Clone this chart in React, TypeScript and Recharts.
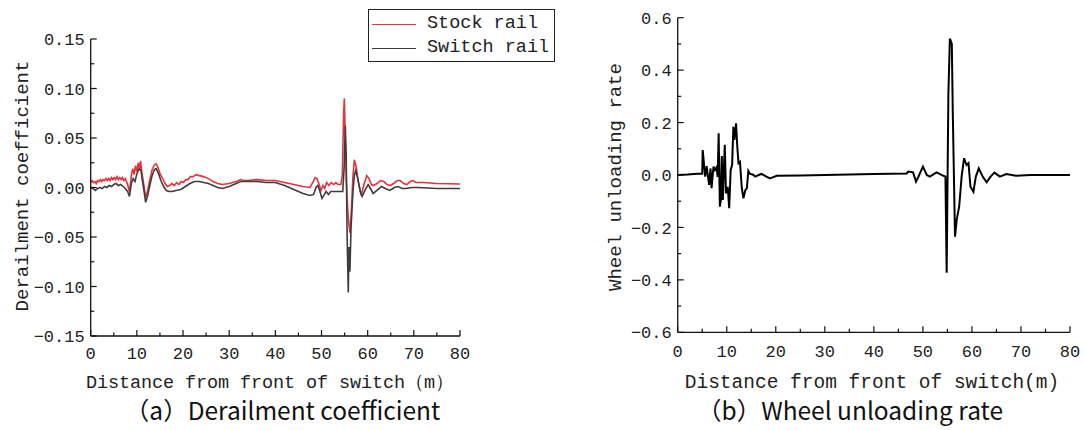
import React from 'react';
import { LineChart, Line, XAxis, YAxis, Legend } from 'recharts';

// ---------- tick labels ----------
const distanceTicks = [0, 5, 10, 15, 20, 25, 30, 35, 40, 45, 50, 55, 60, 65, 70, 75, 80];
const derailTicks = [-0.15, -0.125, -0.1, -0.075, -0.05, -0.025, 0, 0.025, 0.05, 0.075, 0.1, 0.125, 0.15];
const unloadTicks = [-0.6, -0.5, -0.4, -0.3, -0.2, -0.1, 0, 0.1, 0.2, 0.3, 0.4, 0.5, 0.6];

// ---------- series names ----------
const seriesNames = ['Stock rail', 'Switch rail'];

// ---------- stock rail derailment coefficient ----------
const stockDist = [
  0, 0.3, 0.6, 0.9, 1.2, 1.5, 1.8, 2.1, 2.4, 2.7, 3, 3.3, 3.6, 3.9, 4.2, 4.5, 4.8, 5.1, 5.4, 5.7,
  6, 6.3, 6.6, 6.9, 7.2, 7.5, 8, 8.4, 8.8, 9.1,
  9.4, 9.7, 10, 10.3, 10.6, 10.8, 11.1, 11.5, 11.9, 12.3, 12.8, 13.3, 13.8, 14.2, 14.6, 15.1,
  15.6, 16.1, 16.6, 17.1, 17.6, 18.1, 18.6, 19.1, 19.6, 20.1, 20.6, 21.1, 21.6, 22.2, 22.8, 23.5,
  24.5, 25.5, 26.5, 27.5, 28.5, 30, 31.5, 32.5, 33, 34, 36, 38, 40, 42, 44, 46,
  47.5, 48.2, 48.6, 49.0, 49.4, 49.9, 50.3, 50.7, 51.1, 51.6, 52.1, 52.6, 53.1, 53.6, 54.2, 54.5,
  54.8, 54.95, 55.15, 55.4, 55.7, 56.0, 56.2, 56.5, 56.8, 57.1, 57.5, 58.0, 58.6, 59.2, 59.8, 60.3,
  60.8, 61.3, 62, 62.8, 63.5, 64.2, 64.9, 65.6, 66.4, 67, 67.8, 68.5, 69.2, 69.8, 70.5, 72, 75, 80,
];
const stockCoef = [
  0.005, 0.007, 0.005, 0.006, 0.004, 0.007, 0.006, 0.008, 0.006, 0.008, 0.007, 0.009, 0.007, 0.009, 0.007, 0.010, 0.008, 0.010, 0.008, 0.011,
  0.008, 0.010, 0.008, 0.010, 0.007, 0.009, 0.003, -0.004, 0.012, 0.019,
  0.013, 0.022, 0.016, 0.025, 0.019, 0.027, 0.015, 0.003, -0.010, -0.004, 0.008, 0.018, 0.023, 0.024, 0.020, 0.013,
  0.009, 0.004, 0.001, 0.002, 0.004, 0.002, 0.005, 0.003, 0.006, 0.005, 0.008, 0.008, 0.011, 0.011, 0.013, 0.012,
  0.011, 0.009, 0.006, 0.004, 0.003, 0.004, 0.006, 0.008, 0.007, 0.007, 0.008, 0.007, 0.007, 0.005, 0.003, 0.001,
  0.000, 0.006, 0.010, 0.009, 0.004, -0.003, 0.002, -0.001, 0.005, 0.002, 0.005, 0.003, 0.005, 0.003, 0.003, 0.012,
  0.075, 0.090, 0.050, 0.005, -0.025, -0.040, -0.046, -0.020, 0.010, 0.028, 0.021, 0.005, -0.008, 0.003, 0.012, 0.009,
  0.003, 0.002, 0.004, 0.007, 0.006, 0.003, 0.002, 0.004, 0.007, 0.007, 0.004, 0.003, 0.006, 0.007, 0.005, 0.005, 0.004, 0.0035,
];

// ---------- switch rail derailment coefficient ----------
const switchDist = [
  0, 0.5, 1, 1.5, 2, 2.5, 3, 3.5, 4, 4.5, 5, 5.5, 6, 6.5, 7, 7.5, 8, 8.4, 8.8, 9.2,
  9.6, 10, 10.5, 10.9, 11.2, 11.6, 11.9, 12.3, 12.8, 13.3, 13.8, 14.2, 14.7, 15.2, 15.8, 16.4,
  17, 17.6, 18.5, 19.5, 20.5, 21.5, 22.5, 23.5, 24.5, 25.5, 26.5, 27.5, 28.5, 30, 31.5, 32.5,
  34, 36, 38, 40, 42, 44, 46, 47.5, 48.3, 48.8, 49.2, 49.6, 50.1, 50.5, 51.0, 51.5,
  52, 53, 54, 54.6, 54.9, 55.15, 55.35, 55.55, 55.8, 55.95, 56.15, 56.4, 56.8, 57.1, 57.4, 57.9,
  58.4, 58.8, 59.4, 60.1, 60.6, 61.2, 62, 63, 63.8, 64.8, 65.8, 66.6, 67.5, 68.3, 69.5, 71, 75, 80,
];
const switchCoef = [
  0.000, -0.001, -0.003, -0.001, 0.000, -0.001, 0.001, 0.000, 0.002, 0.001, 0.003, 0.004, 0.002, 0.003, 0.001, -0.001, -0.004, -0.009, 0.004, 0.009,
  0.006, 0.014, 0.019, 0.017, 0.007, -0.005, -0.015, -0.009, 0.002, 0.012, 0.018, 0.019, 0.014, 0.007, 0.001, -0.003,
  -0.004, -0.004, -0.003, -0.002, 0.001, 0.004, 0.006, 0.006, 0.005, 0.004, 0.002, 0.000, -0.001, 0.001, 0.004, 0.006,
  0.006, 0.006, 0.005, 0.005, 0.002, -0.002, -0.006, -0.008, -0.007, 0.000, 0.002, -0.003, -0.011, -0.008, -0.004, -0.007,
  -0.004, -0.004, -0.004, -0.004, 0.020, 0.062, 0.030, -0.050, -0.106, -0.060, -0.085, -0.040, -0.005, 0.012, 0.017, 0.008,
  -0.004, -0.009, -0.003, 0.003, -0.001, -0.006, -0.003, 0.001, -0.001, -0.003, 0.000, 0.001, -0.001, -0.001, 0.000, 0.000, -0.001, -0.001,
];

// ---------- wheel unloading rate ----------
const unloadDist = [
  0, 2, 4, 5.0, 5.1, 5.6, 5.9, 6.4, 6.7, 6.9, 7.3, 7.6, 7.95, 8.15, 8.35, 8.6, 8.8, 9.0, 9.2, 9.6,
  9.85, 10.2, 10.5, 10.8, 11.1, 11.35, 11.55, 11.9, 12.15, 12.4, 12.7, 13.05, 13.4, 13.8, 14.1, 14.4, 14.75, 15.3,
  15.8, 16.5, 17.1, 18, 18.8, 19.5, 20.2, 25, 30, 35, 40, 46.7, 47, 48, 48.6, 49.1,
  50, 50.8, 51.4, 52.8, 54.2, 54.6, 54.85, 55.2, 55.5, 55.9, 56.1, 56.55, 56.9, 57.4, 57.9, 58.4,
  58.9, 59.3, 59.7, 60.3, 60.8, 61.4, 62.2, 63, 63.8, 64.6, 65.7, 67, 69, 72, 80,
];
const unloadRate = [
  0.0, 0.002, 0.005, 0.005, 0.095, -0.006, 0.034, -0.038, 0.025, -0.05, 0.032, 0.019, 0.03, -0.007, 0.159, -0.121, -0.095, 0.072, -0.095, 0.115,
  -0.07, -0.045, -0.127, 0.019, 0.038, 0.184, 0.134, 0.197, 0.108, 0.045, 0.05, -0.045, -0.089, -0.057, -0.051, 0.016, 0.004, 0.002,
  -0.006, 0.0, 0.004, -0.005, -0.013, -0.008, -0.003, -0.002, 0.0, 0.002, 0.004, 0.006, 0.013, 0.01, -0.025, -0.006,
  0.032, 0.0, -0.006, 0.01, -0.003, -0.006, -0.373, 0.312, 0.52, 0.5, 0.235, -0.235, -0.17, -0.121, -0.006, 0.064,
  0.038, 0.045, -0.045, -0.064, -0.006, 0.025, -0.006, -0.028, -0.006, 0.009, -0.006, 0.004, -0.003, 0.0, 0.0,
];

const zip = (xs: number[], ys: number[]) => xs.map((x, i) => ({ x, y: ys[i] }));
const stockData = zip(stockDist, stockCoef);
const switchData = zip(switchDist, switchCoef);
const unloadData = zip(unloadDist, unloadRate);

const MONO = '"Liberation Mono", "DejaVu Sans Mono", monospace';
const CAPTION = '"Noto Sans CJK SC", "Noto Sans", sans-serif';
const TEXT_COLOR = '#222';
const AXIS_COLOR = '#111';

const fmt = (v: number, d: number) => {
  if (Math.abs(v) < 1e-9) return (0).toFixed(d);
  return (v < 0 ? '\u2212' : '') + Math.abs(v).toFixed(d);
};

const isMajorTick = (v: number, step: number) => Math.abs(v / step - Math.round(v / step)) < 1e-6;

const makeYTick = (step: number, decimals: number) => (props: any) => {
  const { x, y, payload } = props;
  const v = payload.value as number;
  const major = isMajorTick(v, step);
  const len = major ? 6 : 3.5;
  return (
    <g>
      <line x1={x} x2={x + len} y1={y} y2={y} stroke={AXIS_COLOR} strokeWidth={1.2} />
      {major && (
        <text x={x - 6} y={y} dy="0.36em" textAnchor="end" fontFamily={MONO} fontSize={17} fill={TEXT_COLOR}>
          {fmt(v, decimals)}
        </text>
      )}
    </g>
  );
};

const makeXTick = (step: number, labelGap: number) => (props: any) => {
  const { x, y, payload } = props;
  const v = payload.value as number;
  const major = isMajorTick(v, step);
  const len = major ? 6 : 3.5;
  return (
    <g>
      <line x1={x} x2={x} y1={y} y2={y - len} stroke={AXIS_COLOR} strokeWidth={1.2} />
      {major && (
        <text x={x} y={y + labelGap} dy="0.36em" textAnchor="middle" fontFamily={MONO} fontSize={17} fill={TEXT_COLOR}>
          {String(v)}
        </text>
      )}
    </g>
  );
};

const LegendBox = (props: any) => {
  const payload = (props.payload || []) as any[];
  return (
    <div
      style={{
        width: 187,
        height: 53,
        border: '1px solid #222',
        boxSizing: 'border-box',
        background: '#fff',
        paddingTop: 2,
      }}
    >
      {payload.map((p: any, i: number) => (
        <div key={i} style={{ display: 'flex', alignItems: 'center', height: 24 }}>
          <div style={{ marginLeft: 3, width: 44, height: 0, borderTop: `1.6px solid ${p.color}` }} />
          <span
            style={{
              marginLeft: 11,
              fontFamily: MONO,
              fontSize: 18.5,
              color: TEXT_COLOR,
              lineHeight: '24px',
              whiteSpace: 'nowrap',
            }}
          >
            {p.value}
          </span>
        </div>
      ))}
    </div>
  );
};

const LeftChart = () => (
  <LineChart width={560} height={430} margin={{ top: 39, right: 100, bottom: 54, left: 10.7 }}>
    <XAxis
      type="number"
      dataKey="x"
      domain={[0, 80]}
      ticks={distanceTicks}
      interval={0}
      height={40}
      tickSize={0}
      tickMargin={0}
      tickLine={false}
      axisLine={{ stroke: AXIS_COLOR, strokeWidth: 1.3 }}
      tick={makeXTick(10, 17)}
      allowDataOverflow
      label={() => (
        <g>
          <text
            x={270}
            y={381}
            dy="0.36em"
            textAnchor="middle"
            fontFamily={MONO}
            fontSize={18.5}
            fill={TEXT_COLOR}
            textLength={368}
            lengthAdjust="spacing"
          >
            Distance from front of switch（m）
          </text>
          <text x={282.5} y={411} dy="0.36em" textAnchor="middle" fontFamily={CAPTION} fontSize={24.5} fill="#111">
            （a）Derailment coefficient
          </text>
        </g>
      )}
    />
    <YAxis
      type="number"
      domain={[-0.15, 0.15]}
      ticks={derailTicks}
      interval={0}
      width={80}
      tickSize={0}
      tickMargin={0}
      tickLine={false}
      axisLine={{ stroke: AXIS_COLOR, strokeWidth: 1.3 }}
      tick={makeYTick(0.05, 2)}
      allowDataOverflow
      label={() => (
        <text
          x={21}
          y={186}
          dy="0.36em"
          textAnchor="middle"
          fontFamily={MONO}
          fontSize={19}
          fill={TEXT_COLOR}
          transform="rotate(-90 21 186)"
        >
          Derailment coefficient
        </text>
      )}
    />
    <Legend
      verticalAlign="middle"
      align="center"
      layout="horizontal"
      content={(p: any) => <LegendBox {...p} />}
      wrapperStyle={{ left: 368, top: 9, width: 187, height: 53 }}
    />
    <Line
      data={stockData}
      dataKey="y"
      name={seriesNames[0]}
      type="linear"
      stroke="#e8313a"
      strokeWidth={1.6}
      dot={false}
      activeDot={false}
      isAnimationActive={false}
    />
    <Line
      data={switchData}
      dataKey="y"
      name={seriesNames[1]}
      type="linear"
      stroke="#3d3d3d"
      strokeWidth={1.6}
      dot={false}
      activeDot={false}
      isAnimationActive={false}
    />
  </LineChart>
);

const RightChart = () => (
  <LineChart width={524} height={430} margin={{ top: 17.7, right: 14, bottom: 57.7, left: 37.7 }}>
    <XAxis
      type="number"
      dataKey="x"
      domain={[0, 80]}
      ticks={distanceTicks}
      interval={0}
      height={40}
      tickSize={0}
      tickMargin={0}
      tickLine={false}
      axisLine={{ stroke: AXIS_COLOR, strokeWidth: 1.3 }}
      tick={makeXTick(10, 19)}
      allowDataOverflow
      label={() => (
        <g>
          <text x={312} y={381} dy="0.36em" textAnchor="middle" fontFamily={MONO} fontSize={19.5} fill={TEXT_COLOR}>
            Distance from front of switch(m)
          </text>
          <text x={290} y={411} dy="0.36em" textAnchor="middle" fontFamily={CAPTION} fontSize={24.5} fill="#111">
            （b）Wheel unloading rate
          </text>
        </g>
      )}
    />
    <YAxis
      type="number"
      domain={[-0.6, 0.6]}
      ticks={unloadTicks}
      interval={0}
      width={80}
      tickSize={0}
      tickMargin={0}
      tickLine={false}
      axisLine={{ stroke: AXIS_COLOR, strokeWidth: 1.3 }}
      tick={makeYTick(0.2, 1)}
      allowDataOverflow
      label={() => (
        <text
          x={54}
          y={177}
          dy="0.36em"
          textAnchor="middle"
          fontFamily={MONO}
          fontSize={19}
          fill={TEXT_COLOR}
          transform="rotate(-90 54 177)"
        >
          Wheel unloading rate
        </text>
      )}
    />
    <Line
      data={unloadData}
      dataKey="y"
      name="Wheel unloading rate"
      type="linear"
      stroke="#000"
      strokeWidth={2}
      dot={false}
      activeDot={false}
      isAnimationActive={false}
    />
  </LineChart>
);

export default function App() {
  return (
    <div style={{ position: 'absolute', left: 0, top: 0, width: 1084, height: 430, background: '#fff', overflow: 'hidden' }}>
      <div style={{ position: 'absolute', left: 0, top: 0 }}>
        <LeftChart />
      </div>
      <div style={{ position: 'absolute', left: 560, top: 0 }}>
        <RightChart />
      </div>
    </div>
  );
}
